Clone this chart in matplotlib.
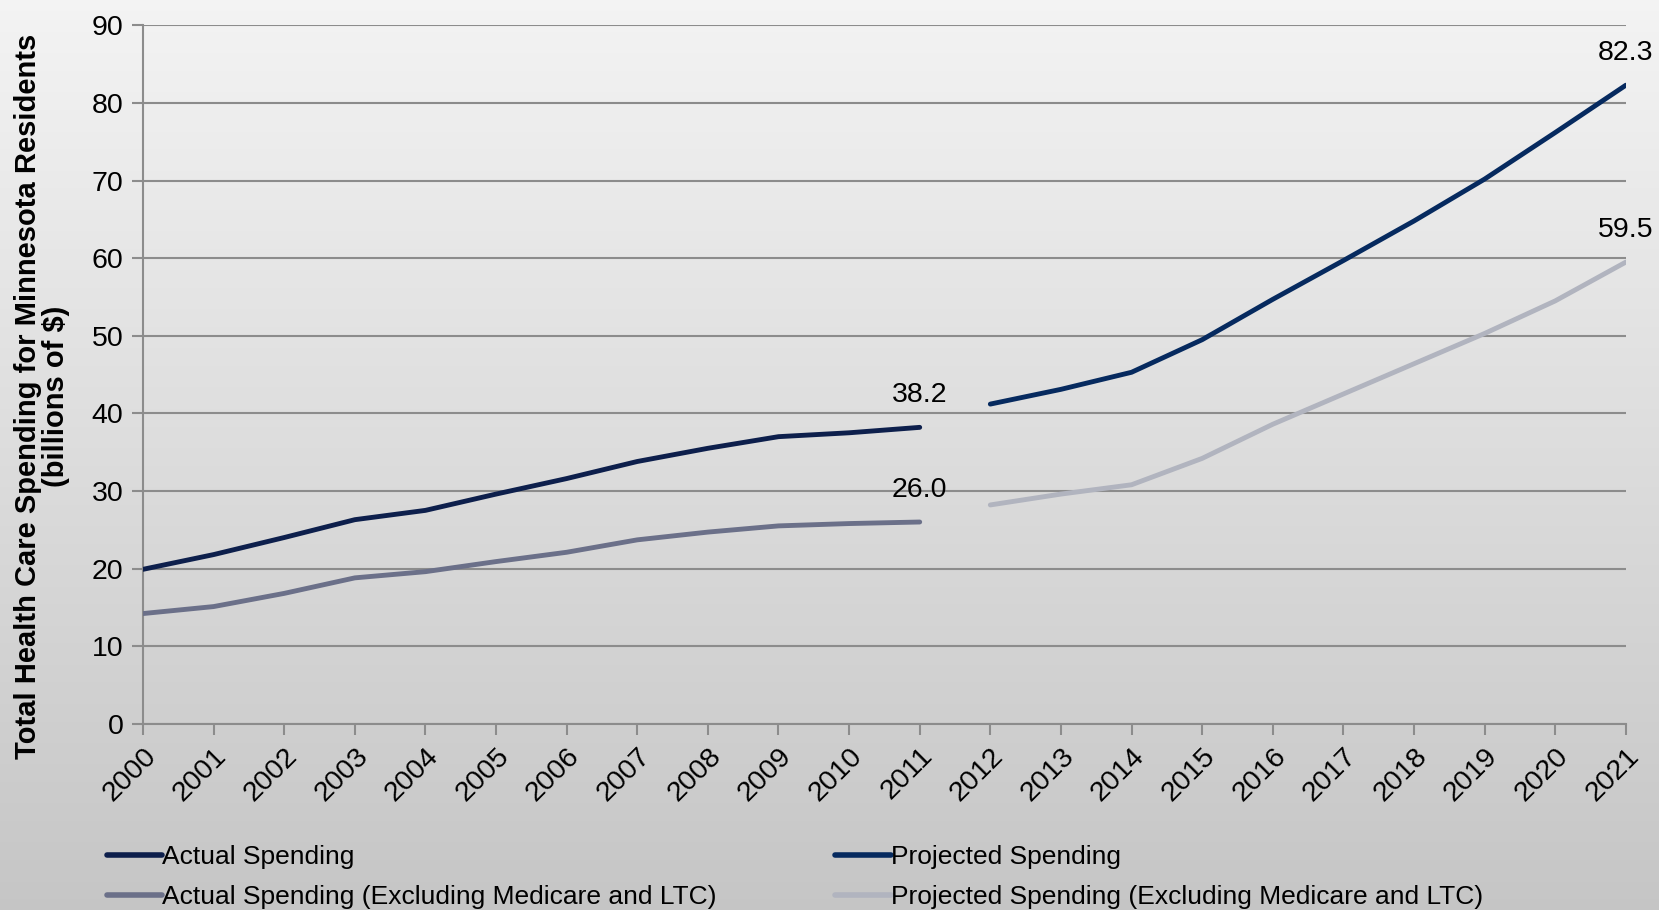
import numpy as np
import matplotlib
matplotlib.use("Agg")
import matplotlib.pyplot as plt
from matplotlib.lines import Line2D

years = [str(y) for y in range(2000, 2022)]
actual_years = years[:12]
proj_years = years[12:]

actual = [19.9, 21.8, 24.0, 26.3, 27.5, 29.6, 31.6, 33.8, 35.5, 37.0, 37.5, 38.2]
projected = [41.2, 43.1, 45.3, 49.5, 54.7, 59.7, 64.8, 70.2, 76.2, 82.3]
actual_excl = [14.2, 15.1, 16.8, 18.8, 19.6, 20.9, 22.1, 23.7, 24.7, 25.5, 25.8, 26.0]
projected_excl = [28.2, 29.6, 30.8, 34.2, 38.6, 42.5, 46.4, 50.3, 54.5, 59.5]

labels = ["Actual Spending", "Projected Spending",
          "Actual Spending (Excluding Medicare and LTC)",
          "Projected Spending (Excluding Medicare and LTC)"]
colors = ["#0d1f4c", "#062a5f", "#6b7089", "#b1b4bf"]

plt.rcParams['font.family'] = ['Liberation Sans', 'DejaVu Sans']

fig = plt.figure(figsize=(16.59, 9.10), dpi=100)

# gradient background
bg = fig.add_axes([0, 0, 1, 1], zorder=-10)
grad = np.linspace(0.955, 0.775, 256).reshape(-1, 1)
bg.imshow(np.dstack([grad, grad, grad]), aspect='auto', extent=[0, 1, 0, 1], origin='upper')
bg.axis('off')

ax = fig.add_axes([0.0862, 0.2047, 0.8938, 0.7673])
ax.patch.set_alpha(0)

x_all = np.arange(len(years))
xa = x_all[:12]
xp = x_all[12:]

lw = 3.5
ax.plot(xa, actual, color=colors[0], lw=lw, solid_capstyle='round', zorder=3)
ax.plot(xp, projected, color=colors[1], lw=lw, solid_capstyle='round', zorder=3)
ax.plot(xa, actual_excl, color=colors[2], lw=lw, solid_capstyle='round', zorder=3)
ax.plot(xp, projected_excl, color=colors[3], lw=lw, solid_capstyle='round', zorder=3)

ax.set_xlim(0, len(years) - 1)
ax.set_ylim(0, 90)
ax.set_yticks(range(0, 91, 10))
ax.set_xticks(x_all)
ax.set_xticklabels(years, rotation=45, ha='right', rotation_mode='anchor')
ax.tick_params(axis='both', labelsize=20.5, colors='#8c8c8c', labelcolor='black', width=1.5, length=8)
ax.tick_params(axis='x', pad=6)
ax.tick_params(axis='y', pad=6)
ax.yaxis.grid(True, color='#8c8c8c', lw=1.5)
ax.set_axisbelow(True)
for s in ['top', 'right']:
    ax.spines[s].set_visible(False)
for s in ['left', 'bottom']:
    ax.spines[s].set_color('#8c8c8c')
    ax.spines[s].set_linewidth(1.5)

# annotations
for xi, yi in [(xa[-1], actual[-1]), (xp[-1], projected[-1]), (xa[-1], actual_excl[-1]), (xp[-1], projected_excl[-1])]:
    ax.annotate(f"{yi:.1f}", (xi, yi), xytext=(0, 32), textcoords='offset pixels',
                ha='center', va='center', fontsize=20.5, clip_on=False)

fig.text(0.0255, 0.564, "Total Health Care Spending for Minnesota Residents\n(billions of $)",
         rotation=90, ha='center', va='center', fontsize=21, fontweight='bold',
         multialignment='center', linespacing=1.0)

handles = [Line2D([], [], color=colors[i], lw=4, solid_capstyle='round') for i in [0, 2, 1, 3]]
labs = [labels[i] for i in [0, 2, 1, 3]]
fig.legend(handles, labs, loc='upper left', bbox_to_anchor=(0.058, 0.0825),
           ncol=2, frameon=False, fontsize=19, handlelength=2.1, handletextpad=0.0,
           columnspacing=4.5, labelspacing=0.6, borderaxespad=0)

fig.savefig("out.png", dpi=100)
